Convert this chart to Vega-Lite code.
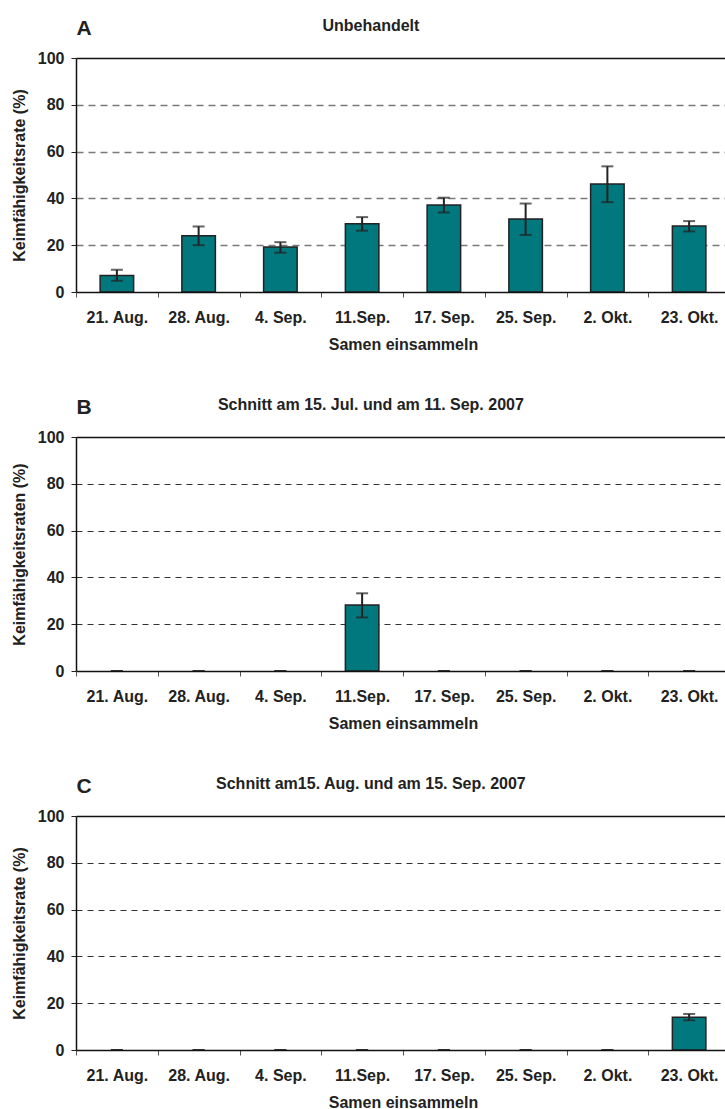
{
  "$schema": "https://vega.github.io/schema/vega-lite/v6.json",
  "background": "white",
  "padding": {"left": 11, "top": 17, "right": 0, "bottom": 0},
  "spacing": 44,
  "config": {
    "view": {"stroke": null},
    "font": "Liberation Sans",
    "title": {"font": "Liberation Sans", "fontSize": 16, "fontWeight": "bold", "color": "#222", "anchor": "middle", "frame": "bounds", "baseline": "alphabetic", "offset": -17},
    "axis": {"labelFont": "Liberation Sans", "titleFont": "Liberation Sans", "labelFontWeight": "bold", "titleFontWeight": "bold", "labelColor": "#222", "titleColor": "#222", "labelFontSize": 16, "titleFontSize": 16}
  },
  "datasets": {
    "A": [
      {"date": "21. Aug.", "value": 7.1, "lo": 4.8, "hi": 9.5},
      {"date": "28. Aug.", "value": 24, "lo": 20, "hi": 28},
      {"date": "4. Sep.", "value": 19.2, "lo": 16.8, "hi": 21.3},
      {"date": "11.Sep.", "value": 29.2, "lo": 26.2, "hi": 32},
      {"date": "17. Sep.", "value": 37.2, "lo": 34, "hi": 40.3},
      {"date": "25. Sep.", "value": 31.2, "lo": 24.4, "hi": 37.8},
      {"date": "2. Okt.", "value": 46.2, "lo": 38.4, "hi": 53.7},
      {"date": "23. Okt.", "value": 28.2, "lo": 25.9, "hi": 30.3}
    ],
    "B": [
      {"date": "21. Aug.", "value": 0, "lo": 0, "hi": 0},
      {"date": "28. Aug.", "value": 0, "lo": 0, "hi": 0},
      {"date": "4. Sep.", "value": 0, "lo": 0, "hi": 0},
      {"date": "11.Sep.", "value": 28.2, "lo": 22.9, "hi": 33.2},
      {"date": "17. Sep.", "value": 0, "lo": 0, "hi": 0},
      {"date": "25. Sep.", "value": 0, "lo": 0, "hi": 0},
      {"date": "2. Okt.", "value": 0, "lo": 0, "hi": 0},
      {"date": "23. Okt.", "value": 0, "lo": 0, "hi": 0}
    ],
    "C": [
      {"date": "21. Aug.", "value": 0, "lo": 0, "hi": 0},
      {"date": "28. Aug.", "value": 0, "lo": 0, "hi": 0},
      {"date": "4. Sep.", "value": 0, "lo": 0, "hi": 0},
      {"date": "11.Sep.", "value": 0, "lo": 0, "hi": 0},
      {"date": "17. Sep.", "value": 0, "lo": 0, "hi": 0},
      {"date": "25. Sep.", "value": 0, "lo": 0, "hi": 0},
      {"date": "2. Okt.", "value": 0, "lo": 0, "hi": 0},
      {"date": "23. Okt.", "value": 14, "lo": 12.7, "hi": 15.4}
    ]
  },
  "vconcat": [
    {
      "width": 654, "height": 234,
      "data": {"name": "A"},
      "title": {"text": "Unbehandelt"},
      "encoding": {
        "y": {"type": "quantitative", "scale": {"domain": [0, 100], "nice": false},
          "axis": {"title": "Keimfähigkeitsrate (%)", "values": [0, 20, 40, 60, 80, 100], "tickSize": 5, "tickColor": "#222", "domainColor": "#111", "domainWidth": 1.5, "labelPadding": 7, "titlePadding": 10, "grid": true, "gridDash": [7, 5], "gridColor": "#7a7a7a", "gridWidth": 1.4, "gridOpacity": {"condition": {"test": "datum.value === 0 || datum.value === 100", "value": 0}, "value": 1}}}
      },
      "layer": [
        {
          "transform": [{"filter": "datum.value > 0"}],
          "mark": {"type": "bar", "color": "#00787E", "stroke": "#222", "strokeWidth": 1.5, "width": {"band": 0.41}},
          "encoding": {
            "x": {"field": "date", "type": "nominal", "scale": {"domain": ["21. Aug.", "28. Aug.", "4. Sep.", "11.Sep.", "17. Sep.", "25. Sep.", "2. Okt.", "23. Okt."], "paddingInner": 0, "paddingOuter": 0},
              "axis": {"orient": "bottom", "title": "Samen einsammeln", "tickBand": "extent", "tickSize": 5, "tickColor": "#555", "domainColor": "#111", "domainWidth": 1.5, "labelAngle": 0, "labelPadding": 12, "titlePadding": 11, "grid": false, "zindex": 1}},
            "y": {"field": "value"}
          }
        },
        {
          "mark": {"type": "rule", "color": "#222", "strokeWidth": 2},
          "encoding": {
            "x": {"field": "date", "type": "nominal", "axis": {"orient": "top", "title": "A", "titleFontSize": 21, "titleAnchor": "start", "titleAlign": "left", "titleBaseline": "alphabetic", "titlePadding": 24, "labels": false, "ticks": false, "domain": true, "domainColor": "#111", "domainWidth": 1.5, "grid": false}},
            "y": {"field": "lo"},
            "y2": {"field": "hi"}
          }
        },
        {
          "mark": {"type": "tick", "color": "#222", "thickness": 2, "size": 12},
          "encoding": {
            "x": {"field": "date", "type": "nominal", "axis": null},
            "y": {"field": "lo"}
          }
        },
        {
          "mark": {"type": "tick", "color": "#222", "thickness": 2, "size": 12},
          "encoding": {
            "x": {"field": "date", "type": "nominal", "axis": null},
            "y": {"field": "hi"}
          }
        }
      ],
      "resolve": {"axis": {"x": "independent"}}
    },
    {
      "width": 654, "height": 234,
      "data": {"name": "B"},
      "title": {"text": "Schnitt am 15. Jul. und am 11. Sep. 2007"},
      "encoding": {
        "y": {"type": "quantitative", "scale": {"domain": [0, 100], "nice": false},
          "axis": {"title": "Keimfähigkeitsraten (%)", "values": [0, 20, 40, 60, 80, 100], "tickSize": 5, "tickColor": "#222", "domainColor": "#111", "domainWidth": 1.5, "labelPadding": 7, "titlePadding": 10, "grid": true, "gridDash": [6, 5], "gridColor": "#333", "gridWidth": 1.1, "gridOpacity": {"condition": {"test": "datum.value === 0 || datum.value === 100", "value": 0}, "value": 1}}}
      },
      "layer": [
        {
          "transform": [{"filter": "datum.value > 0"}],
          "mark": {"type": "bar", "color": "#00787E", "stroke": "#222", "strokeWidth": 1.5, "width": {"band": 0.41}},
          "encoding": {
            "x": {"field": "date", "type": "nominal", "scale": {"domain": ["21. Aug.", "28. Aug.", "4. Sep.", "11.Sep.", "17. Sep.", "25. Sep.", "2. Okt.", "23. Okt."], "paddingInner": 0, "paddingOuter": 0},
              "axis": {"orient": "bottom", "title": "Samen einsammeln", "tickBand": "extent", "tickSize": 5, "tickColor": "#555", "domainColor": "#111", "domainWidth": 1.5, "labelAngle": 0, "labelPadding": 12, "titlePadding": 11, "grid": false, "zindex": 1}},
            "y": {"field": "value"}
          }
        },
        {
          "mark": {"type": "rule", "color": "#222", "strokeWidth": 2},
          "encoding": {
            "x": {"field": "date", "type": "nominal", "axis": {"orient": "top", "title": "B", "titleFontSize": 21, "titleAnchor": "start", "titleAlign": "left", "titleBaseline": "alphabetic", "titlePadding": 24, "labels": false, "ticks": false, "domain": true, "domainColor": "#111", "domainWidth": 1.5, "grid": false}},
            "y": {"field": "lo"},
            "y2": {"field": "hi"}
          }
        },
        {
          "mark": {"type": "tick", "color": "#222", "thickness": 2, "size": 12},
          "encoding": {
            "x": {"field": "date", "type": "nominal", "axis": null},
            "y": {"field": "lo"}
          }
        },
        {
          "mark": {"type": "tick", "color": "#222", "thickness": 2, "size": 12},
          "encoding": {
            "x": {"field": "date", "type": "nominal", "axis": null},
            "y": {"field": "hi"}
          }
        }
      ],
      "resolve": {"axis": {"x": "independent"}}
    },
    {
      "width": 654, "height": 234,
      "data": {"name": "C"},
      "title": {"text": "Schnitt am15. Aug. und am 15. Sep. 2007"},
      "encoding": {
        "y": {"type": "quantitative", "scale": {"domain": [0, 100], "nice": false},
          "axis": {"title": "Keimfähigkeitsrate (%)", "values": [0, 20, 40, 60, 80, 100], "tickSize": 5, "tickColor": "#222", "domainColor": "#111", "domainWidth": 1.5, "labelPadding": 7, "titlePadding": 10, "grid": true, "gridDash": [6, 5], "gridColor": "#333", "gridWidth": 1.1, "gridOpacity": {"condition": {"test": "datum.value === 0 || datum.value === 100", "value": 0}, "value": 1}}}
      },
      "layer": [
        {
          "transform": [{"filter": "datum.value > 0"}],
          "mark": {"type": "bar", "color": "#00787E", "stroke": "#222", "strokeWidth": 1.5, "width": {"band": 0.41}},
          "encoding": {
            "x": {"field": "date", "type": "nominal", "scale": {"domain": ["21. Aug.", "28. Aug.", "4. Sep.", "11.Sep.", "17. Sep.", "25. Sep.", "2. Okt.", "23. Okt."], "paddingInner": 0, "paddingOuter": 0},
              "axis": {"orient": "bottom", "title": "Samen einsammeln", "tickBand": "extent", "tickSize": 5, "tickColor": "#555", "domainColor": "#111", "domainWidth": 1.5, "labelAngle": 0, "labelPadding": 12, "titlePadding": 11, "grid": false, "zindex": 1}},
            "y": {"field": "value"}
          }
        },
        {
          "mark": {"type": "rule", "color": "#222", "strokeWidth": 2},
          "encoding": {
            "x": {"field": "date", "type": "nominal", "axis": {"orient": "top", "title": "C", "titleFontSize": 21, "titleAnchor": "start", "titleAlign": "left", "titleBaseline": "alphabetic", "titlePadding": 24, "labels": false, "ticks": false, "domain": true, "domainColor": "#111", "domainWidth": 1.5, "grid": false}},
            "y": {"field": "lo"},
            "y2": {"field": "hi"}
          }
        },
        {
          "mark": {"type": "tick", "color": "#222", "thickness": 2, "size": 12},
          "encoding": {
            "x": {"field": "date", "type": "nominal", "axis": null},
            "y": {"field": "lo"}
          }
        },
        {
          "mark": {"type": "tick", "color": "#222", "thickness": 2, "size": 12},
          "encoding": {
            "x": {"field": "date", "type": "nominal", "axis": null},
            "y": {"field": "hi"}
          }
        }
      ],
      "resolve": {"axis": {"x": "independent"}}
    }
  ]
}
